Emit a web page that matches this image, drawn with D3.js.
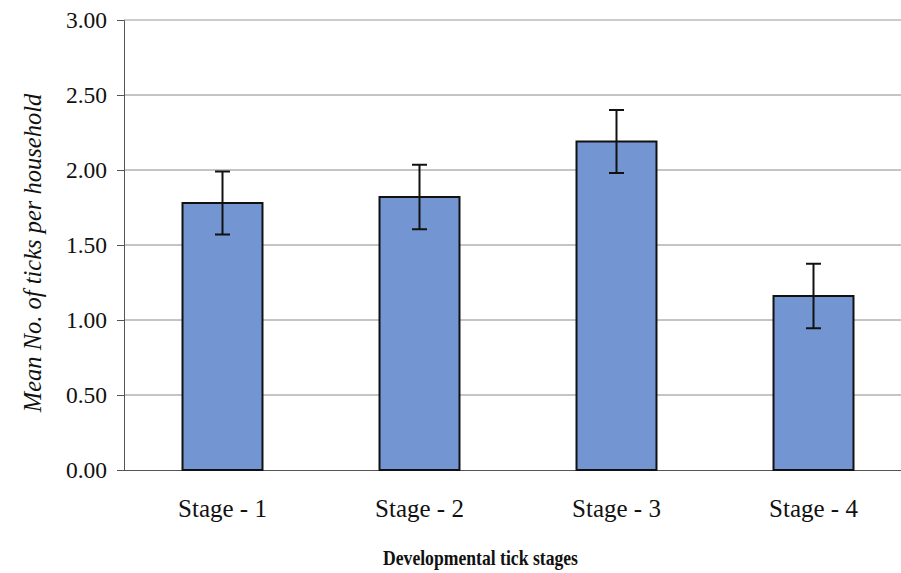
<!DOCTYPE html>
<html><head><meta charset="utf-8">
<script src="https://cdn.jsdelivr.net/npm/d3@7"></script>
<style>body{margin:0;background:#fff}svg{display:block}</style>
</head><body>
<svg id="c" width="901" height="573"></svg>
<script>
const categories = ["Stage - 1","Stage - 2","Stage - 3","Stage - 4"];
const means = [1.78, 1.82, 2.19, 1.16];
const errors = [0.21, 0.215, 0.21, 0.215];
const yTicks = [0, 0.5, 1, 1.5, 2, 2.5, 3];

const svg = d3.select("#c");
const x = d3.scaleBand().domain(categories).range([124, 912]).paddingInner(0.594).paddingOuter(0.297);
const y = d3.scaleLinear().domain([0, 3]).range([470, 20]);
const serif = "'Liberation Serif','Times New Roman',serif";

// gridlines
svg.append("g").selectAll("line").data(yTicks.filter(d=>d>0)).join("line")
  .attr("x1",124).attr("x2",901).attr("y1",d=>y(d)).attr("y2",d=>y(d))
  .attr("stroke",d=>d===3?"#bbb":"#8a8a8a").attr("stroke-width",d=>d===3?1.5:1);

// y axis
const ya = svg.append("g").attr("transform","translate(124,0)")
  .call(d3.axisLeft(y).tickValues(yTicks).tickFormat(d3.format(".2f")).tickSize(7).tickPadding(10));
ya.attr("font-family",serif);
ya.select(".domain").attr("stroke","#555").attr("d","M-7,20.5H0.5V470");
ya.selectAll(".tick line").attr("stroke","#555");
ya.selectAll("text").style("font-family",serif).style("font-size","23.5px").attr("fill","#111");

// x axis baseline
const xa = svg.append("g").attr("transform","translate(0,470)")
  .call(d3.axisBottom(x).tickSize(0).tickPadding(29));
xa.attr("font-family",serif);
xa.select(".domain").attr("stroke","#555").attr("d","M124,0.5H901");
xa.selectAll("text").style("font-family",serif).style("font-size","25px").attr("fill","#111");

// bars
svg.append("g").selectAll("rect").data(categories).join("rect")
  .attr("x",d=>x(d)).attr("width",x.bandwidth())
  .attr("y",(d,i)=>y(means[i])).attr("height",(d,i)=>y(0)-y(means[i]))
  .attr("fill","#7396d3").attr("stroke","#111").attr("stroke-width",2);

// error bars
const eg = svg.append("g").attr("stroke","#111").attr("stroke-width",2);
categories.forEach((c,i)=>{
  const cx = x(c)+x.bandwidth()/2;
  eg.append("line").attr("x1",cx).attr("x2",cx).attr("y1",y(means[i]+errors[i])).attr("y2",y(means[i]-errors[i]));
  [means[i]+errors[i], means[i]-errors[i]].forEach(v=>{
    eg.append("line").attr("x1",cx-7.5).attr("x2",cx+7.5).attr("y1",y(v)).attr("y2",y(v));
  });
});

// axis titles
svg.append("text").attr("transform","translate(41,253) rotate(-90)")
  .attr("text-anchor","middle").style("font-family",serif).style("font-style","italic")
  .style("font-size","24.5px").attr("fill","#111").text("Mean No. of ticks per household");
svg.append("text").attr("x",383).attr("y",565)
  .attr("textLength",195).attr("lengthAdjust","spacingAndGlyphs")
  .style("font-family",serif).style("font-weight","bold").style("font-size","21px")
  .attr("fill","#111").text("Developmental tick stages");
</script>
</body></html>
